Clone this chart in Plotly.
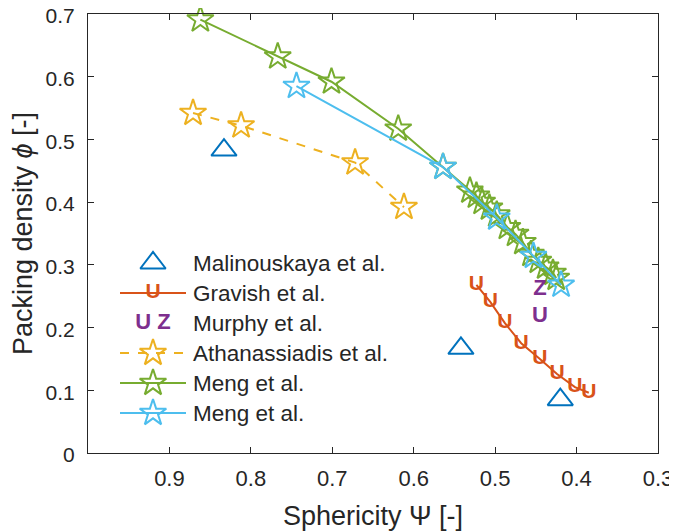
import plotly.graph_objects as go

# ---------------- data ----------------
mal_x = [0.833, 0.542, 0.420]
mal_y = [0.483, 0.167, 0.085]

grav_x = [0.523, 0.506, 0.488, 0.468, 0.445, 0.424, 0.402, 0.385]
grav_y = [0.268, 0.241, 0.207, 0.175, 0.150, 0.126, 0.105, 0.096]

mur_x = [0.445, 0.445]
mur_y = [0.218, 0.260]
mur_txt = ["U", "Z"]

ath_x = [0.871, 0.812, 0.672, 0.612]
ath_y = [0.542, 0.522, 0.463, 0.392]

meng1_x = [0.862, 0.767, 0.701, 0.619, 0.564, 0.531, 0.523, 0.516, 0.507, 0.498,
           0.485, 0.475, 0.466, 0.456, 0.447, 0.438, 0.429, 0.425]
meng1_y = [0.691, 0.632, 0.592, 0.517, 0.456, 0.418, 0.410, 0.400, 0.391, 0.380,
           0.360, 0.349, 0.336, 0.317, 0.306, 0.297, 0.287, 0.279]

meng2_x = [0.744, 0.564, 0.498, 0.453, 0.419]
meng2_y = [0.585, 0.456, 0.375, 0.314, 0.268]

labels = ["Malinouskaya et al.", "Gravish et al.", "Murphy et al.",
          "Athanassiadis et al.", "Meng et al.", "Meng et al."]

x_ticks = [0.9, 0.8, 0.7, 0.6, 0.5, 0.4, 0.3]
y_ticks = [0, 0.1, 0.2, 0.3, 0.4, 0.5, 0.6, 0.7]
y_ticklabels = ["0", "0.1", "0.2", "0.3", "0.4", "0.5", "0.6", "0.7"]

# ---------------- style ----------------
C_BLUE = "#0072BD"
C_ORANGE = "#D95319"
C_YELLOW = "#EDB120"
C_PURPLE = "#7E2F8E"
C_GREEN = "#77AC30"
C_CYAN = "#4DBEEE"
AX = "#262626"
FONT = "Liberation Sans, Arial, sans-serif"

fig = go.Figure()

star = dict(symbol="star-open", size=20, line=dict(width=2))

fig.add_trace(go.Scatter(x=ath_x, y=ath_y, mode="lines+markers", cliponaxis=False,
                         line=dict(color=C_YELLOW, width=2, dash="dash"),
                         marker=dict(color=C_YELLOW, **star), showlegend=False))
fig.add_trace(go.Scatter(x=meng1_x, y=meng1_y, mode="lines+markers", cliponaxis=False,
                         line=dict(color=C_GREEN, width=2),
                         marker=dict(color=C_GREEN, **star), showlegend=False))
fig.add_trace(go.Scatter(x=meng2_x, y=meng2_y, mode="lines+markers", cliponaxis=False,
                         line=dict(color=C_CYAN, width=2),
                         marker=dict(color=C_CYAN, **star), showlegend=False))
fig.add_trace(go.Scatter(x=mal_x, y=mal_y, mode="markers", cliponaxis=False,
                         marker=dict(symbol="triangle-up-open", size=22, color=C_BLUE,
                                     line=dict(width=2)), showlegend=False))
fig.add_trace(go.Scatter(x=grav_x, y=grav_y, mode="lines+text", text=["U"] * len(grav_x),
                         textposition="middle center", cliponaxis=False,
                         textfont=dict(family=FONT, size=21, color=C_ORANGE, weight="bold"),
                         line=dict(color=C_ORANGE, width=2), showlegend=False))
fig.add_trace(go.Scatter(x=mur_x, y=mur_y, mode="text", text=mur_txt,
                         textposition="middle center", cliponaxis=False,
                         textfont=dict(family=FONT, size=22, color=C_PURPLE, weight="bold"),
                         showlegend=False))

# ---------------- manual legend (overlay axes in pixel units of the page) ----------------
row_y = [263 + 30 * i for i in range(len(labels))]
sx0, sx1, sxc, tx = 120, 186, 153, 191

fig.add_trace(go.Scatter(x=[sxc], y=[row_y[0]], xaxis="x2", yaxis="y2", mode="markers",
                         marker=dict(symbol="triangle-up-open", size=22, color=C_BLUE,
                                     line=dict(width=2)), showlegend=False, hoverinfo="skip"))
fig.add_trace(go.Scatter(x=[sx0, sx1], y=[row_y[1]] * 2, xaxis="x2", yaxis="y2", mode="lines",
                         line=dict(color=C_ORANGE, width=2), showlegend=False, hoverinfo="skip"))
fig.add_trace(go.Scatter(x=[sxc], y=[row_y[1]], xaxis="x2", yaxis="y2", mode="text", text=["U"],
                         textfont=dict(family=FONT, size=21, color=C_ORANGE, weight="bold"),
                         showlegend=False, hoverinfo="skip"))
fig.add_trace(go.Scatter(x=[sxc], y=[row_y[2]], xaxis="x2", yaxis="y2", mode="text", text=["U Z"],
                         textfont=dict(family=FONT, size=22, color=C_PURPLE, weight="bold"),
                         showlegend=False, hoverinfo="skip"))
for i, col, dash in [(3, C_YELLOW, "dash"), (4, C_GREEN, "solid"), (5, C_CYAN, "solid")]:
    fig.add_trace(go.Scatter(x=[sx0, sx1], y=[row_y[i]] * 2, xaxis="x2", yaxis="y2", mode="lines",
                             line=dict(color=col, width=2, dash=dash),
                             showlegend=False, hoverinfo="skip"))
    fig.add_trace(go.Scatter(x=[sxc], y=[row_y[i]], xaxis="x2", yaxis="y2", mode="markers",
                             marker=dict(color=col, **star), showlegend=False, hoverinfo="skip"))

for i, lab in enumerate(labels):
    fig.add_annotation(x=tx, y=row_y[i], xref="x2", yref="y2", text=lab, showarrow=False,
                       xanchor="left", yanchor="middle",
                       font=dict(family=FONT, size=22.5, color=AX))

axis_common = dict(showgrid=False, zeroline=False, showline=True, linecolor=AX, linewidth=1,
                   mirror="ticks", ticks="inside", ticklen=6, tickcolor=AX, tickwidth=1,
                   automargin=False, ticklabeloverflow="allow")

# page body has an 8px margin: the figure is sized so the plot box lands at x 88-658, y 14-453
fig.update_layout(
    width=669, height=523,
    margin=dict(l=80, r=19, t=6, b=78),
    plot_bgcolor="white", paper_bgcolor="white",
    showlegend=False,
    xaxis=dict(range=[1.0, 0.3], tickvals=x_ticks, ticklabelstandoff=6,
               tickfont=dict(family=FONT, size=22, color=AX),
               title=dict(text="Sphericity Ψ [-]", font=dict(family=FONT, size=27, color=AX),
                          standoff=19),
               **axis_common),
    yaxis=dict(range=[0, 0.7], tickvals=y_ticks, ticktext=y_ticklabels, ticklabelstandoff=8,
               ticklabelshift=2,
               tickfont=dict(family=FONT, size=21, color=AX),
               title=dict(text="Packing density <i>ϕ</i> [-]",
                          font=dict(family=FONT, size=27, color=AX), standoff=20),
               **axis_common),
    xaxis2=dict(range=[88, 658], overlaying="x", anchor="y2", visible=False),
    yaxis2=dict(range=[453, 14], overlaying="y", anchor="x2", visible=False),
)

fig.write_html("out.html")
